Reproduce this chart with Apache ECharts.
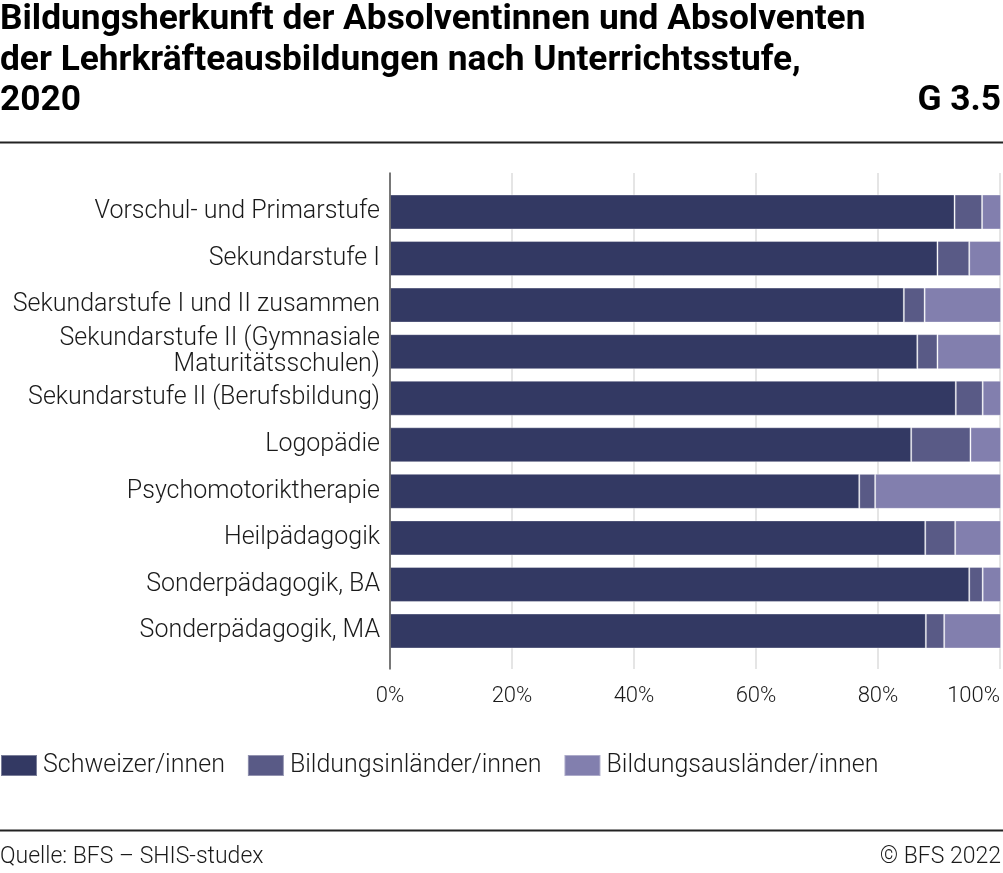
<!DOCTYPE html>
<html>
<head>
<meta charset="utf-8">
<script src="https://cdn.jsdelivr.net/npm/echarts@6/dist/echarts.min.js"></script>
<style>
html,body{margin:0;padding:0;background:#fff;}
#chart{width:1003px;height:873px;}
</style>
</head>
<body>
<div id="chart"></div>
<script>
const categories = [
  'Vorschul- und Primarstufe',
  'Sekundarstufe I',
  'Sekundarstufe I und II zusammen',
  'Sekundarstufe II (Gymnasiale\nMaturitätsschulen)',
  'Sekundarstufe II (Berufsbildung)',
  'Logopädie',
  'Psychomotoriktherapie',
  'Heilpädagogik',
  'Sonderpädagogik, BA',
  'Sonderpädagogik, MA'
];
const schweizer = [92.4, 89.6, 84.1, 86.3, 92.6, 85.3, 76.8, 87.6, 94.8, 87.7];
const inlaender = [4.5, 5.2, 3.4, 3.3, 4.4, 9.7, 2.6, 4.9, 2.2, 3.0];
const auslaender = [3.1, 5.2, 12.5, 10.4, 3.0, 5.0, 20.6, 7.5, 3.0, 9.3];
const seriesNames = ['Schweizer/innen', 'Bildungsinländer/innen', 'Bildungsausländer/innen'];
const colors = ['#333963', '#595a86', '#827fae'];
const xTicks = [0, 20, 40, 60, 80, 100];

const FONT = 'Roboto, "Noto Sans", sans-serif';
const chart = echarts.init(document.getElementById('chart'), null, {renderer: 'canvas'});

const seriesData = [schweizer, inlaender, auslaender];
const option = {
  animation: false,
  color: colors,
  textStyle: {fontFamily: FONT},
  title: [
    {
      text: 'Bildungsherkunft der Absolventinnen und Absolventen\nder Lehrkräfteausbildungen nach Unterrichtsstufe,\n2020',
      left: 0, top: 0, padding: 0,
      textStyle: {fontFamily: FONT, fontSize: 35.3, fontWeight: 'bold', color: '#000', lineHeight: 40.5}
    },
    {
      text: 'G 3.5',
      right: 2, top: 81, padding: 0,
      textStyle: {fontFamily: FONT, fontSize: 35.3, fontWeight: 'bold', color: '#000', lineHeight: 40.5}
    }
  ],
  legend: {
    left: 0, top: 753, padding: 0,
    itemWidth: 36, itemHeight: 21, itemGap: 22,
    icon: 'rect',
    data: seriesNames,
    textStyle: {fontFamily: FONT, fontSize: 25, fontWeight: 300, color: '#1a1a1a', padding: [0, 0, 0, 1]}
  },
  grid: [
    {left: 390, right: 2, top: 173, height: 496},
    {left: 390, right: 2, top: 188.7, height: 465.6}
  ],
  xAxis: [
    {
      gridIndex: 0, type: 'value', min: 0, max: 100, interval: 20,
      axisLine: {show: false}, axisTick: {show: false},
      splitLine: {show: true, lineStyle: {color: '#dcdcdc', width: 1.5}},
      axisLabel: {
        formatter: v => xTicks.includes(v) ? v + '%' : '',
        fontFamily: FONT, fontSize: 22, fontWeight: 300, color: '#1a1a1a', margin: 16,
        alignMaxLabel: 'right'
      }
    },
    {
      gridIndex: 1, type: 'value', min: 0, max: 100, interval: 20, show: false
    }
  ],
  yAxis: [
    {
      gridIndex: 0, type: 'value', min: 0, max: 1, z: 5,
      axisLine: {show: true, lineStyle: {color: '#555', width: 1.5}},
      axisTick: {show: false}, axisLabel: {show: false}, splitLine: {show: false}
    },
    {
      gridIndex: 1, type: 'category', inverse: true, data: categories,
      axisLine: {show: false}, axisTick: {show: false},
      axisLabel: {fontFamily: FONT, fontSize: 25, fontWeight: 300, color: '#1a1a1a', margin: 10, lineHeight: 26, align: 'right'}
    }
  ],
  series: seriesNames.map((name, i) => ({
    name: name,
    type: 'bar',
    stack: 'total',
    xAxisIndex: 1, yAxisIndex: 1,
    barWidth: 35,
    itemStyle: {color: colors[i], borderColor: 'rgba(255,255,255,0.35)', borderWidth: 1},
    data: seriesData[i]
  })),
  graphic: [
    {type: 'line', shape: {x1: 0, y1: 142.5, x2: 1003, y2: 142.5}, style: {stroke: '#222', lineWidth: 2}},
    {type: 'line', shape: {x1: 0, y1: 830.5, x2: 1003, y2: 830.5}, style: {stroke: '#222', lineWidth: 2}},
    {type: 'text', left: 0, top: 846, style: {text: 'Quelle: BFS – SHIS-studex', font: '300 23px ' + FONT, fill: '#1a1a1a'}},
    {type: 'text', right: 2, top: 846, style: {text: '© BFS 2022', font: '300 23px ' + FONT, fill: '#1a1a1a'}}
  ]
};
chart.setOption(option);
</script>
</body>
</html>
